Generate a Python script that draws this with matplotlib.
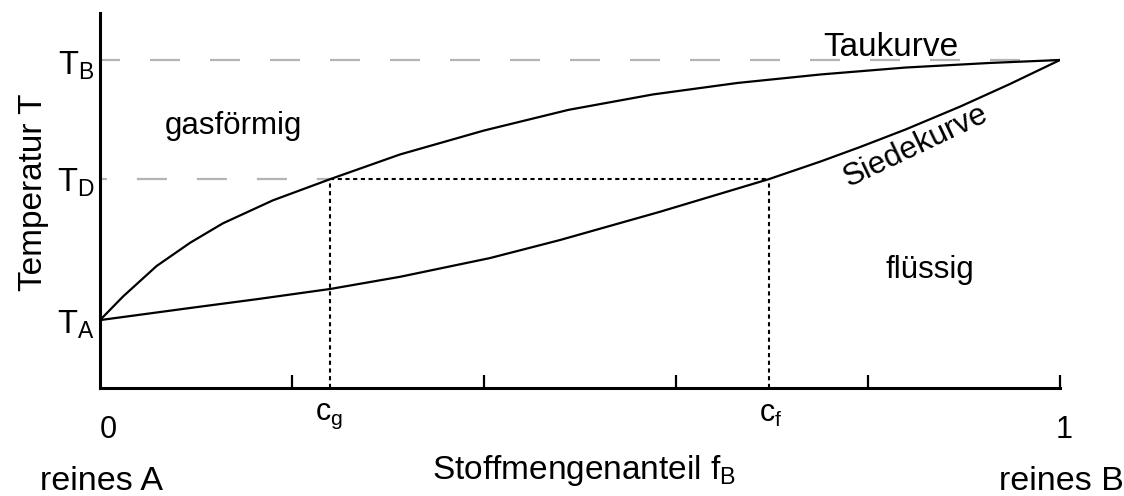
import matplotlib
matplotlib.use("Agg")
import matplotlib.pyplot as plt

plt.rcParams['font.family'] = ['Liberation Sans', 'DejaVu Sans']
plt.rcParams['mathtext.fontset'] = 'custom'
plt.rcParams['mathtext.rm'] = 'Liberation Sans'
plt.rcParams['mathtext.it'] = 'Liberation Sans'

# Temperature levels (fraction of scale, T_B = 1)
T_A = 0.207
T_D = 0.637
T_B = 1.0

# Composition marks on the x axis
c_g = 0.240
c_f = 0.697

# Dew curve (Taukurve)
tau_x = [0.0, 0.024, 0.059, 0.094, 0.128, 0.180, 0.240, 0.3125, 0.400, 0.488,
         0.576, 0.664, 0.751, 0.839, 0.927, 1.0]
tau_y = [0.207, 0.279, 0.372, 0.443, 0.502, 0.572, 0.637, 0.712, 0.785, 0.848,
         0.895, 0.930, 0.956, 0.977, 0.991, 1.0]

# Boiling curve (Siedekurve)
siede_x = [0.0, 0.094, 0.164, 0.240, 0.3125, 0.406, 0.479, 0.583, 0.697,
           0.751, 0.792, 0.839, 0.896, 0.948, 1.0]
siede_y = [0.207, 0.244, 0.271, 0.302, 0.339, 0.396, 0.451, 0.537, 0.637,
           0.691, 0.735, 0.788, 0.858, 0.927, 1.0]

xticks = [0.2, 0.4, 0.6, 0.8, 1.0]

W, H = 1124, 496
fig = plt.figure(figsize=(W / 100, H / 100), dpi=100)
ax = fig.add_axes([100 / W, (H - 388) / H, 960 / W, 375 / H])
ax.set_xlim(0, 1)
ax.set_ylim(0, 375 / 328)

for s in ['top', 'right']:
    ax.spines[s].set_visible(False)
for s in ['left', 'bottom']:
    ax.spines[s].set_linewidth(2.2)
    ax.spines[s].set_capstyle('projecting')

ax.set_xticks(xticks)
ax.set_xticklabels([])
ax.set_yticks([])
ax.tick_params(axis='x', direction='in', length=9.5, width=1.6)

# grey reference levels
grey = '#b4b4b4'
ax.plot([0, 1], [T_B, T_B], color=grey, lw=1.6,
        linestyle=(4.5, (13.5, 13.5)), zorder=1)
ax.plot([0, c_g], [T_D, T_D], color=grey, lw=1.6,
        linestyle=(10.4, (13.5, 13.5)), zorder=1)

# phase boundaries
ax.plot(tau_x, tau_y, color='black', lw=1.6, zorder=3,
        solid_joinstyle='round')
ax.plot(siede_x, siede_y, color='black', lw=1.6, zorder=3,
        solid_joinstyle='round')

# tie line and drop lines
dot = dict(color='black', lw=1.5, linestyle=(0, (2.0, 1.7)), zorder=2)
ax.plot([c_g, c_f], [T_D, T_D], **dot)
ax.plot([c_g, c_g], [0, T_D], **dot)
ax.plot([c_f, c_f], [0, T_D], **dot)

fs = 23.5
def px(x, y, s, **kw):
    fig.text(x / W, 1 - y / H, s, fontsize=kw.pop('fontsize', fs),
             ha=kw.pop('ha', 'center'), va=kw.pop('va', 'center'), **kw)

px(76, 66, r'$\mathregular{T_B}$')
px(76, 183, r'$\mathregular{T_D}$')
px(76, 325, r'$\mathregular{T_A}$')
px(34, 192, 'Temperatur T', rotation=90, fontsize=24)

px(108, 430, '0', fontsize=22)
px(1064, 430, '1', fontsize=22)
px(329, 416, r'$\mathregular{c_g}$', fontsize=22)
px(771, 414, r'$\mathregular{c_f}$', fontsize=22)
px(101, 481, 'reines A', fontsize=24.5)
px(1061, 481, 'reines B', fontsize=24.5)
px(584, 471, r'Stoffmengenanteil $\mathregular{f_B}$', fontsize=24)

px(233, 126, 'gasförmig', fontsize=22.5)
px(930, 270, 'flüssig', fontsize=22.5)
px(891, 47, 'Taukurve', fontsize=24)
px(916, 146, 'Siedekurve', fontsize=22.5, rotation=25.5,
   rotation_mode='anchor')

fig.savefig('out.png', dpi=100)
